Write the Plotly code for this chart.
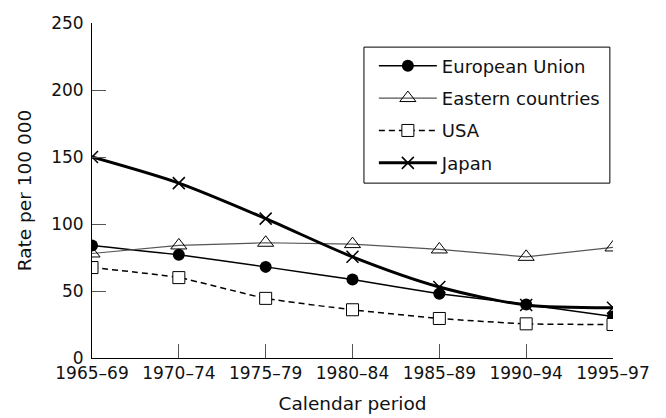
import plotly.graph_objects as go

periods = ["1965–69", "1970–74", "1975–79", "1980–84", "1985–89", "1990–94", "1995–97"]
eu = [84, 77, 68, 58.5, 48, 40, 31]
eastern = [78, 84, 86, 85, 81, 75.5, 82.5]
usa = [67.5, 60, 44.5, 36, 29.5, 25.5, 25]
japan = [150, 130.5, 104, 75.5, 53, 39.5, 37.5]
yticks = [0, 50, 100, 150, 200, 250]

FONT = "DejaVu Sans"
x = list(range(len(periods)))

fig = go.Figure()
fig.add_trace(go.Scatter(
    x=x, y=eu, name="European Union", mode="lines+markers", legendgroup="eu",
    line=dict(color="black", width=1.5, shape="spline", smoothing=0.5),
    marker=dict(symbol="circle", size=12, color="black"),
))
fig.add_trace(go.Scatter(
    x=x, y=eastern, name="Eastern countries", mode="lines+markers", legendgroup="east",
    line=dict(color="#555", width=1.2),
    marker=dict(symbol="triangle-up-open", size=14, color="black", line=dict(width=1)),
))
fig.add_trace(go.Scatter(
    x=x, y=usa, name="USA", mode="lines+markers", legendgroup="usa",
    line=dict(color="black", width=1.5, dash="6px,4px", shape="spline", smoothing=0.5),
    marker=dict(symbol="square", size=12, color="white", line=dict(width=1, color="black")),
))
fig.add_trace(go.Scatter(
    x=x, y=japan, name="Japan", mode="lines+markers", legendgroup="jp",
    line=dict(color="black", width=3, shape="spline", smoothing=0.8),
    marker=dict(symbol="x-thin", size=12, color="black", line=dict(width=1.5, color="black")),
))

fig.update_layout(
    width=666, height=418,
    margin=dict(l=92, r=53, t=23, b=60),
    paper_bgcolor="white", plot_bgcolor="white",
    font=dict(family=FONT, size=17, color="#111"),
    showlegend=True,
    legend=dict(
        x=0.541, y=0.927, xanchor="left", yanchor="top",
        borderwidth=0, bgcolor="rgba(0,0,0,0)",
        font=dict(family=FONT, size=18, color="#111"),
        itemwidth=58, tracegroupgap=6,
    ),
    shapes=[dict(type="rect", xref="paper", yref="paper",
                 x0=0.522, x1=0.994, y0=0.522, y1=0.928,
                 line=dict(color="black", width=1), fillcolor="rgba(0,0,0,0)",
                 layer="below")],
    xaxis=dict(
        range=[0, 6], tickmode="array", tickvals=x, ticktext=periods,
        showgrid=False, zeroline=False, showline=True, linecolor="black", linewidth=1,
        ticks="inside", ticklen=14, tickcolor="#555", tickwidth=1, automargin=False,
        title=dict(text="Calendar period", font=dict(size=18.5), standoff=14),
        tickfont=dict(size=17),
    ),
    yaxis=dict(
        range=[0, 250], tickmode="array", tickvals=yticks,
        showgrid=False, zeroline=False, showline=True, linecolor="black", linewidth=1,
        ticks="inside", ticklen=14, tickcolor="#555", tickwidth=1, automargin=False,
        ticklabelstandoff=4,
        title=dict(text="Rate per 100 000", font=dict(size=18.5), standoff=14),
        tickfont=dict(size=17),
    ),
)

fig.write_html("out.html", config={"displayModeBar": False},
               post_script="document.body.style.margin='0';")
